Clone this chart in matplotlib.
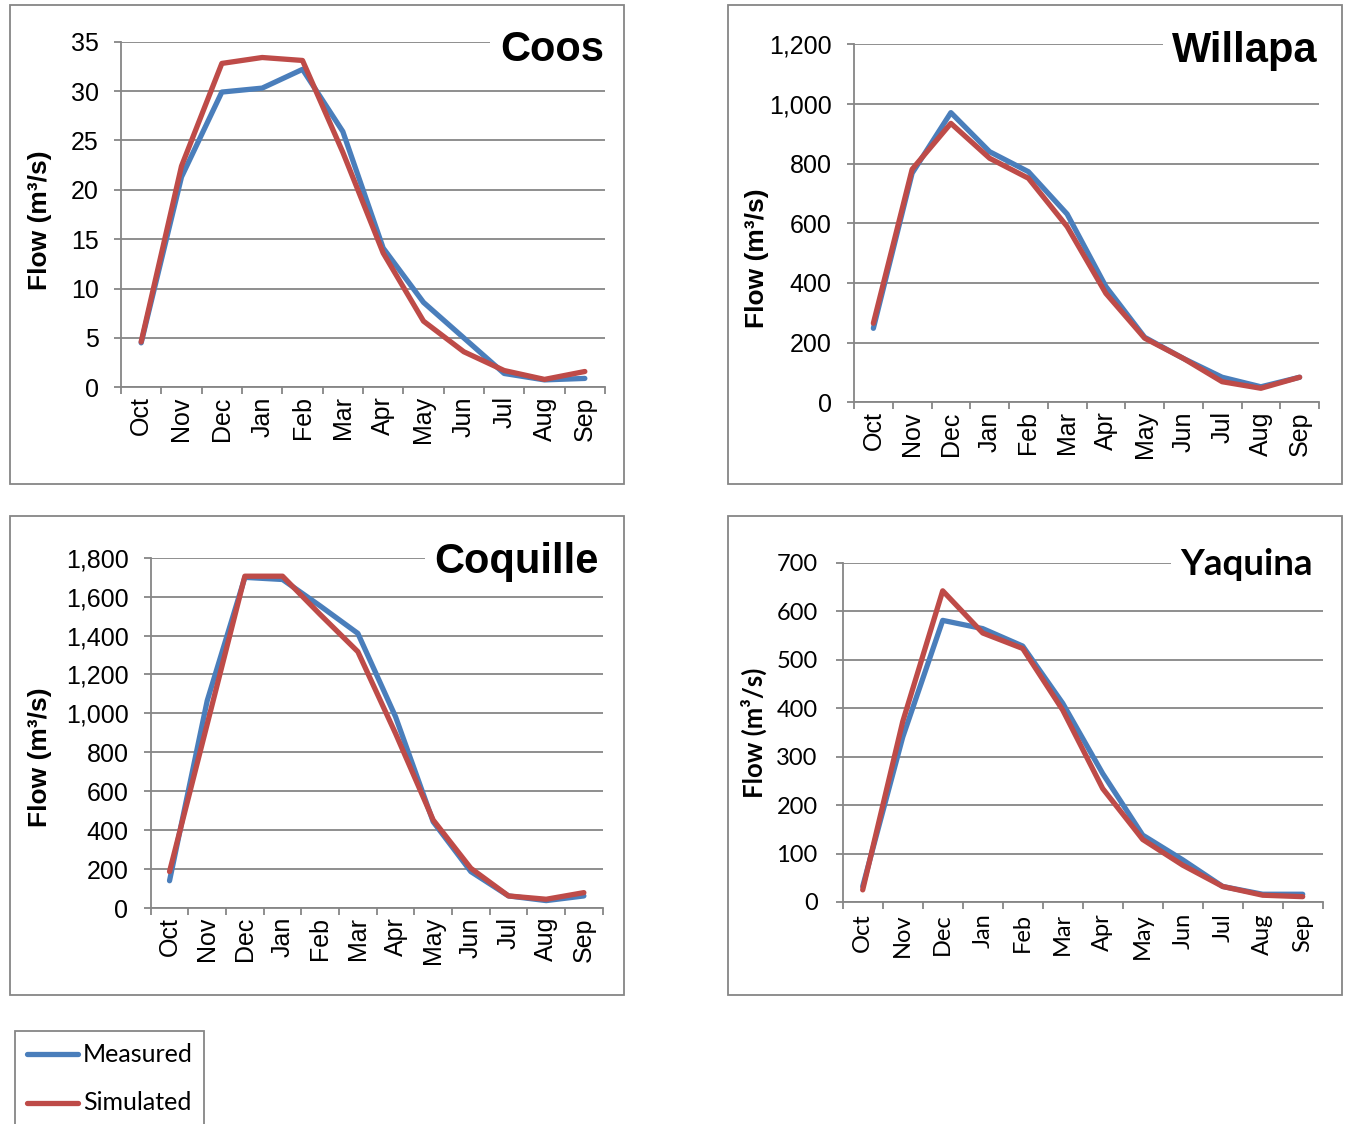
import matplotlib.pyplot as plt
from matplotlib.patches import Rectangle
from matplotlib.lines import Line2D
from matplotlib.ticker import FuncFormatter

# --- DATA ---
months = ["Oct", "Nov", "Dec", "Jan", "Feb", "Mar", "Apr", "May", "Jun", "Jul", "Aug", "Sep"]

coos_measured = [4.5, 21.3, 29.9, 30.3, 32.2, 25.9, 14.1, 8.6, 5.0, 1.4, 0.75, 0.9]
coos_simulated = [4.6, 22.4, 32.8, 33.4, 33.1, 23.8, 13.6, 6.7, 3.6, 1.7, 0.8, 1.6]

willapa_measured = [248, 768, 971, 840, 773, 631, 388, 218, 147, 84, 52, 84]
willapa_simulated = [265, 781, 935, 818, 751, 589, 365, 215, 147, 69, 47, 84]

coquille_measured = [140, 1065, 1699, 1688, 1552, 1411, 983, 443, 187, 62, 38, 62]
coquille_simulated = [187, 945, 1705, 1705, 1508, 1317, 897, 452, 204, 62, 45, 79]

yaquina_measured = [32, 340, 581, 564, 528, 410, 265, 138, 87, 32, 16, 16]
yaquina_simulated = [25, 372, 642, 555, 523, 396, 234, 129, 76, 32, 14, 11]

# --- STYLE ---
W, H = 1349, 1124
GRAY = '#868686'
BLUE = '#4A7EBB'
RED = '#BE4B48'
ARIAL = 'Liberation Sans'
CALIBRI = 'Lato'

fig = plt.figure(figsize=(W / 100, H / 100), dpi=100)


def fx(x):
    return x / W


def fy(y):
    return 1 - y / H


def panel(box, plot, measured, simulated, ymax, ystep, title, title_pos,
          ylab_pos, font, title_size, tick_size, ylab_size, ypad, xpad):
    # panel frame
    bl, bt, br, bb = box
    fig.patches.append(Rectangle((fx(bl), fy(bb)), fx(br - bl), (bb - bt) / H,
                                 transform=fig.transFigure, fill=False,
                                 edgecolor=GRAY, linewidth=1.3, zorder=1))
    l, t, r, b = plot
    ax = fig.add_axes([fx(l), fy(b), fx(r - l), (b - t) / H])
    ax.set_facecolor('none')

    x = [i + 0.5 for i in range(len(months))]
    ax.plot(x, measured, color=BLUE, linewidth=3.8, solid_capstyle='round',
            solid_joinstyle='round', zorder=3)
    ax.plot(x, simulated, color=RED, linewidth=3.8, solid_capstyle='round',
            solid_joinstyle='round', zorder=4)

    ax.set_xlim(0, 12)
    ax.set_ylim(0, ymax)
    ax.set_yticks(range(0, ymax + 1, ystep))
    ax.yaxis.set_major_formatter(FuncFormatter(lambda v, p: f"{v:,.0f}"))
    ax.set_xticks(range(13))
    ax.set_xticklabels([])
    ax.set_xticks(x, minor=True)
    ax.set_xticklabels(months, minor=True, rotation=90, fontsize=tick_size,
                       family=font, va='top', ha='center')
    ax.tick_params(axis='x', which='major', direction='out', length=5,
                   width=1.3, color=GRAY)
    ax.tick_params(axis='x', which='minor', length=0, pad=xpad)
    ax.tick_params(axis='y', direction='out', length=5, width=1.3,
                   color=GRAY, pad=ypad, labelsize=tick_size)
    for lab in ax.get_yticklabels():
        lab.set_family(font)

    ax.grid(axis='y', color=GRAY, linewidth=1.3)
    ax.set_axisbelow(True)
    for s in ['top', 'right']:
        ax.spines[s].set_visible(False)
    for s in ['left', 'bottom']:
        ax.spines[s].set_color(GRAY)
        ax.spines[s].set_linewidth(1.3)

    fig.text(fx(title_pos[0]), fy(title_pos[1]), title, ha='right',
             va='baseline', fontsize=title_size, fontweight='bold', family=font,
             bbox=dict(facecolor='white', edgecolor='none', pad=7))
    fig.text(fx(ylab_pos[0]), fy(ylab_pos[1]), 'Flow (m³/s)', rotation=90,
             ha='center', va='center', fontsize=ylab_size, fontweight='bold',
             family=font)
    return ax


panel((10, 5, 624, 484), (121, 41.7, 605, 387.3), coos_measured,
      coos_simulated, 35, 5, 'Coos', (604, 61), (40, 220), ARIAL, 30, 18, 19,
      11, 6.5)
panel((728, 5, 1342, 484), (854, 44.3, 1319, 402.3), willapa_measured,
      willapa_simulated, 1200, 200, 'Willapa', (1318, 62), (757, 258), ARIAL,
      30, 18, 19, 11, 6.5)
panel((10, 516, 624, 995), (150.7, 557.7, 602.7, 908), coquille_measured,
      coquille_simulated, 1800, 200, 'Coquille', (599, 573), (40, 757), ARIAL,
      30, 18, 19, 11, 6.5)
panel((728, 516, 1342, 995), (842.7, 562.7, 1322.7, 902), yaquina_measured,
      yaquina_simulated, 700, 100, 'Yaquina', (1313, 575), (754, 733),
      CALIBRI, 26.5, 17, 18.5, 13, 8)

# --- LEGEND (box runs off the bottom edge) ---
fig.patches.append(Rectangle((fx(15), fy(1135)), fx(189), 104 / H,
                             transform=fig.transFigure, fill=False,
                             edgecolor=GRAY, linewidth=1.3, zorder=1))
for yy, col, lab in [(1054, BLUE, 'Measured'), (1103, RED, 'Simulated')]:
    fig.lines.append(Line2D([fx(27), fx(78)], [fy(yy), fy(yy)],
                            transform=fig.transFigure, color=col,
                            linewidth=3.8, solid_capstyle='round'))
    fig.text(fx(83), fy(yy), lab, ha='left', va='center', fontsize=18,
             family=CALIBRI)

fig.savefig('out.png', dpi=100)
